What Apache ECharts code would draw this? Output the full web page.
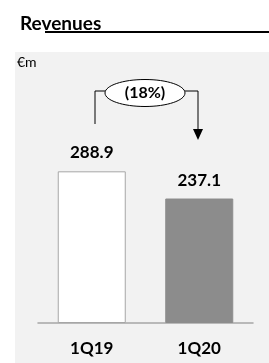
<!DOCTYPE html>
<html>
<head>
<meta charset="utf-8">
<script src="https://cdn.jsdelivr.net/npm/echarts@6/dist/echarts.min.js"></script>
<style>
  html, body { margin: 0; padding: 0; background: #fff; }
  #chart { width: 269px; height: 363px; }
</style>
</head>
<body>
<div id="chart"></div>
<script>
  const categories = ['1Q19', '1Q20'];
  const revenues = [288.9, 237.1];
  const barColors = ['#ffffff', '#8c8c8c'];

  const change = Math.round((revenues[1] / revenues[0] - 1) * 100);
  const changeText = change < 0 ? '(' + Math.abs(change) + '%)' : change + '%';

  const font = 'Lato, "Open Sans", sans-serif';
  const chart = echarts.init(document.getElementById('chart'));

  const option = {
    animation: false,
    backgroundColor: '#fff',
    grid: { left: 38, right: 16, top: 113, bottom: 40 },
    xAxis: {
      type: 'category',
      data: categories,
      axisTick: { show: false },
      axisLine: { lineStyle: { color: '#a6a6a6', width: 1.5 } },
      axisLabel: { color: '#000', fontWeight: 'bold', fontSize: 17, fontFamily: font, margin: 17 }
    },
    yAxis: { type: 'value', min: 0, max: 400, show: false },
    series: [{
      type: 'bar',
      barWidth: 68,
      data: revenues.map((v, i) => ({
        value: v,
        itemStyle: {
          color: barColors[i],
          borderColor: i === 0 ? '#a6a6a6' : barColors[i],
          borderWidth: 1
        }
      })),
      label: {
        show: true,
        position: 'top',
        distance: 10,
        color: '#000',
        fontWeight: 'bold',
        fontSize: 17,
        fontFamily: font,
        formatter: p => p.value.toFixed(1)
      },
      z: 3
    }],
    graphic: [
      { type: 'rect', z: -10, shape: { x: 15, y: 52, width: 254, height: 311 }, style: { fill: '#f2f2f2' } },
      { type: 'text', x: 20, y: 24, style: { text: 'Revenues', font: 'bold 19px ' + font, fill: '#000', verticalAlign: 'middle' } },
      { type: 'line', shape: { x1: 45, y1: 32, x2: 269, y2: 32 }, style: { stroke: '#000', lineWidth: 2 } },
      { type: 'text', x: 17, y: 62, style: { text: '€m', font: '14px ' + font, fill: '#000', verticalAlign: 'middle' } },
      { type: 'polyline', shape: { points: [[95, 124], [95, 91], [106, 91]] }, style: { stroke: '#000', lineWidth: 1, fill: null } },
      { type: 'polyline', shape: { points: [[184, 91], [198, 91], [198, 130]] }, style: { stroke: '#000', lineWidth: 1, fill: null } },
      { type: 'polygon', shape: { points: [[193, 129], [203, 129], [198, 140]] }, style: { fill: '#000' } },
      { type: 'ellipse', shape: { cx: 145, cy: 93, rx: 40, ry: 13.5 }, style: { fill: '#fff', stroke: '#000', lineWidth: 1 } },
      { type: 'text', x: 145, y: 93, style: { text: changeText, font: 'bold 16px ' + font, fill: '#000', align: 'center', verticalAlign: 'middle' }, z: 10 }
    ]
  };
  chart.setOption(option);
</script>
</body>
</html>
